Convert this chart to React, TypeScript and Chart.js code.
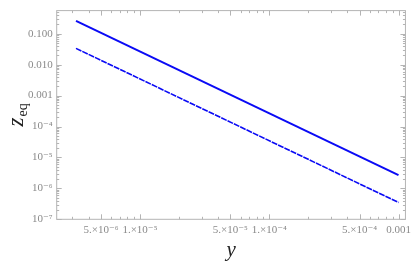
import React, { useEffect, useRef } from "react";
import { Chart, registerables } from "chart.js";

Chart.register(...registerables);

// Data (log-log straight lines)
const yValues = [3.2e-6, 1e-3];
const zUpper = [0.26, 2.68e-6];
const zLower = [0.0337, 3.5e-7];

// Axis ranges
const xMin = 2.27e-6;
const xMax = 1.131e-3;
const zMin = 1e-7;
const zMax = 0.56;

// Tick labels
const xTickValues = [5e-6, 1e-5, 5e-5, 1e-4, 5e-4, 1e-3];
const xTickLabels = ["5.×10⁻⁶", "1.×10⁻⁵", "5.×10⁻⁵", "1.×10⁻⁴", "5.×10⁻⁴", "0.001"];
const zTickValues = [0.1, 0.01, 0.001, 1e-4, 1e-5, 1e-6, 1e-7];
const zTickLabels = ["0.100", "0.010", "0.001", "10⁻⁴", "10⁻⁵", "10⁻⁶", "10⁻⁷"];
const decadeStarts = [1e-8, 1e-7, 1e-6, 1e-5, 1e-4, 1e-3, 1e-2, 1e-1, 1];
const minorMultipliers = [2, 3, 4, 5, 6, 7, 8, 9];

const FRAME = "#b4b4b4";
const LABEL = "#8a8a8a";
const BLUE = "#0a0af5";
const SERIF = "'Liberation Serif', 'DejaVu Serif', serif";

const framePlugin = {
  id: "frameTicks",
  afterDraw(chart: any) {
    const { ctx, chartArea } = chart;
    const xs = chart.scales.x;
    const ys = chart.scales.y;
    const { left, right, top, bottom } = chartArea;
    ctx.save();
    ctx.strokeStyle = FRAME;
    ctx.lineWidth = 1;
    ctx.strokeRect(left, top, right - left, bottom - top);

    const major = 5;
    const minor = 2.5;
    const inRange = (v: number, a: number, b: number) => v >= a * 0.9999 && v <= b * 1.0001;

    ctx.beginPath();
    const xTicks: [number, number][] = [];
    decadeStarts.forEach((d) => {
      if (inRange(d, xMin, xMax)) xTicks.push([d, major]);
      minorMultipliers.forEach((m) => {
        const v = d * m;
        if (inRange(v, xMin, xMax)) xTicks.push([v, xTickValues.some((t) => Math.abs(t - v) / v < 1e-6) ? major : minor]);
      });
    });
    xTicks.forEach(([v, len]) => {
      const px = Math.round(xs.getPixelForValue(v)) + 0.5;
      ctx.moveTo(px, bottom);
      ctx.lineTo(px, bottom - len);
      ctx.moveTo(px, top);
      ctx.lineTo(px, top + len);
    });
    decadeStarts.forEach((d) => {
      if (inRange(d, zMin, zMax)) {
        const py = Math.round(ys.getPixelForValue(d)) + 0.5;
        ctx.moveTo(left, py);
        ctx.lineTo(left + major, py);
        ctx.moveTo(right, py);
        ctx.lineTo(right - major, py);
      }
      minorMultipliers.forEach((m) => {
        const v = d * m;
        if (inRange(v, zMin, zMax)) {
          const py = Math.round(ys.getPixelForValue(v)) + 0.5;
          ctx.moveTo(left, py);
          ctx.lineTo(left + minor, py);
          ctx.moveTo(right, py);
          ctx.lineTo(right - minor, py);
        }
      });
    });
    ctx.stroke();

    // axis titles
    ctx.fillStyle = "#222";
    ctx.font = `italic 21px ${SERIF}`;
    ctx.textAlign = "center";
    ctx.textBaseline = "alphabetic";
    ctx.fillText("y", (left + right) / 2, 256);

    ctx.translate(23, (top + bottom) / 2);
    ctx.rotate(-Math.PI / 2);
    ctx.textAlign = "left";
    const zFont = `italic 23px ${SERIF}`;
    const subFont = `14px ${SERIF}`;
    ctx.font = zFont;
    const wz = ctx.measureText("z").width;
    ctx.font = subFont;
    const we = ctx.measureText("eq").width;
    const start = -(wz + we + 1) / 2;
    ctx.font = zFont;
    ctx.fillText("z", start, 0);
    ctx.font = subFont;
    ctx.fillText("eq", start + wz + 1, 4);
    ctx.restore();
  },
};

export default function App() {
  const ref = useRef<HTMLCanvasElement | null>(null);

  useEffect(() => {
    if (!ref.current) return;
    const chart = new Chart(ref.current, {
      type: "line",
      data: {
        datasets: [
          {
            data: yValues.map((x, i) => ({ x, y: zUpper[i] })),
            borderColor: BLUE,
            borderWidth: 2,
            pointRadius: 0,
            fill: false,
          },
          {
            data: yValues.map((x, i) => ({ x, y: zLower[i] })),
            borderColor: BLUE,
            borderWidth: 1.6,
            borderDash: [6, 1],
            pointRadius: 0,
            fill: false,
          },
        ],
      },
      options: {
        responsive: false,
        animation: false,
        layout: { padding: { top: 2, right: 5, left: 0, bottom: 0 } },
        plugins: { legend: { display: false }, tooltip: { enabled: false } },
        scales: {
          x: {
            type: "logarithmic",
            min: xMin,
            max: xMax,
            grid: { display: false, drawTicks: false },
            border: { display: false },
            afterBuildTicks: (s: any) => {
              s.ticks = xTickValues.map((v) => ({ value: v }));
            },
            afterFit: (s: any) => {
              s.height = 46.7;
            },
            ticks: {
              autoSkip: false,
              maxRotation: 0,
              minRotation: 0,
              padding: 4,
              color: LABEL,
              font: { family: SERIF, size: 11 },
              callback: (_v: any, i: number) => xTickLabels[i],
            },
          },
          y: {
            type: "logarithmic",
            min: zMin,
            max: zMax,
            grid: { display: false, drawTicks: false },
            border: { display: false },
            afterBuildTicks: (s: any) => {
              s.ticks = zTickValues.map((v) => ({ value: v }));
            },
            afterFit: (s: any) => {
              s.width = 56.7;
            },
            ticks: {
              autoSkip: false,
              padding: 4,
              color: LABEL,
              font: { family: SERIF, size: 11 },
              callback: (_v: any, i: number) => zTickLabels[i],
            },
          },
        },
      },
      plugins: [framePlugin],
    });
    return () => chart.destroy();
  }, []);

  return (
    <div style={{ position: "fixed", left: 0, top: 0, width: 415, height: 266, background: "#fff" }}>
      <canvas ref={ref} width={415} height={266} style={{ display: "block" }} />
    </div>
  );
}
